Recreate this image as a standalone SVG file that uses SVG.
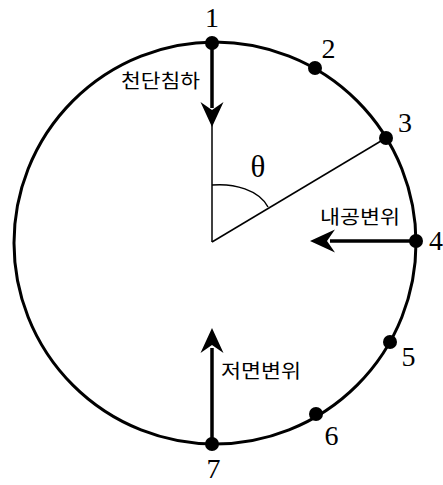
<svg xmlns="http://www.w3.org/2000/svg" width="443" height="485" viewBox="0 0 443 485">
<style>
.num{font-family:"Liberation Serif",serif;font-size:28px;fill:#000;text-anchor:middle}
.ko{font-family:"Noto Sans CJK KR","Noto Sans",sans-serif;font-size:19px;fill:#000}
.thin{stroke:#000;stroke-width:1.5;fill:none}
.thick{stroke:#000;stroke-width:3.5;fill:none}
.dot{fill:#000}
</style>
<defs>
<path id="ah" d="M0,0 L-11.5,-25 L0,-17 L11.5,-25 Z" fill="#000"/>
</defs>
<rect width="443" height="485" fill="#fff"/>
<g id="circle">
<circle cx="215" cy="243" r="201" fill="none" stroke="#000" stroke-width="3"/>
</g>
<g id="connectors">
<line class="thin" x1="212" y1="242" x2="212" y2="110"/>
<line class="thin" x1="212" y1="242" x2="386" y2="138"/>
<path class="thin" d="M212,185 C234,183 259,190 268,207"/>
<line class="thick" x1="212" y1="43" x2="212" y2="108"/>
<use href="#ah" transform="translate(212,127)"/>
<line class="thick" x1="416" y1="241" x2="330" y2="241"/>
<use href="#ah" transform="translate(310,241) rotate(90)"/>
<line class="thick" x1="212" y1="444" x2="212" y2="348"/>
<use href="#ah" transform="translate(212,328) rotate(180)"/>
</g>
<g id="p1"><circle class="dot" cx="212" cy="43" r="7"/><text class="num" x="212" y="27">1</text></g>
<g id="p2"><circle class="dot" cx="315" cy="68" r="7"/><text class="num" x="328.5" y="58">2</text></g>
<g id="p3"><circle class="dot" cx="386" cy="138" r="7"/><text class="num" x="405" y="132">3</text></g>
<g id="p4"><circle class="dot" cx="416" cy="241" r="7"/><text class="num" x="436" y="250">4</text></g>
<g id="p5"><circle class="dot" cx="390" cy="342" r="7"/><text class="num" x="408.5" y="366">5</text></g>
<g id="p6"><circle class="dot" cx="316" cy="414" r="7"/><text class="num" x="331.5" y="445">6</text></g>
<g id="p7"><circle class="dot" cx="212" cy="444" r="7"/><text class="num" x="213.5" y="478">7</text></g>
<g id="theta"><text class="num" x="258" y="177" style="font-size:31px">θ</text></g>
<g id="label-crown"><text class="ko" x="121" y="88" textLength="79" lengthAdjust="spacingAndGlyphs">천단침하</text></g>
<g id="label-inner"><text class="ko" x="320" y="224" textLength="80" lengthAdjust="spacingAndGlyphs">내공변위</text></g>
<g id="label-bottom"><text class="ko" x="221" y="378" textLength="80" lengthAdjust="spacingAndGlyphs">저면변위</text></g>
</svg>
